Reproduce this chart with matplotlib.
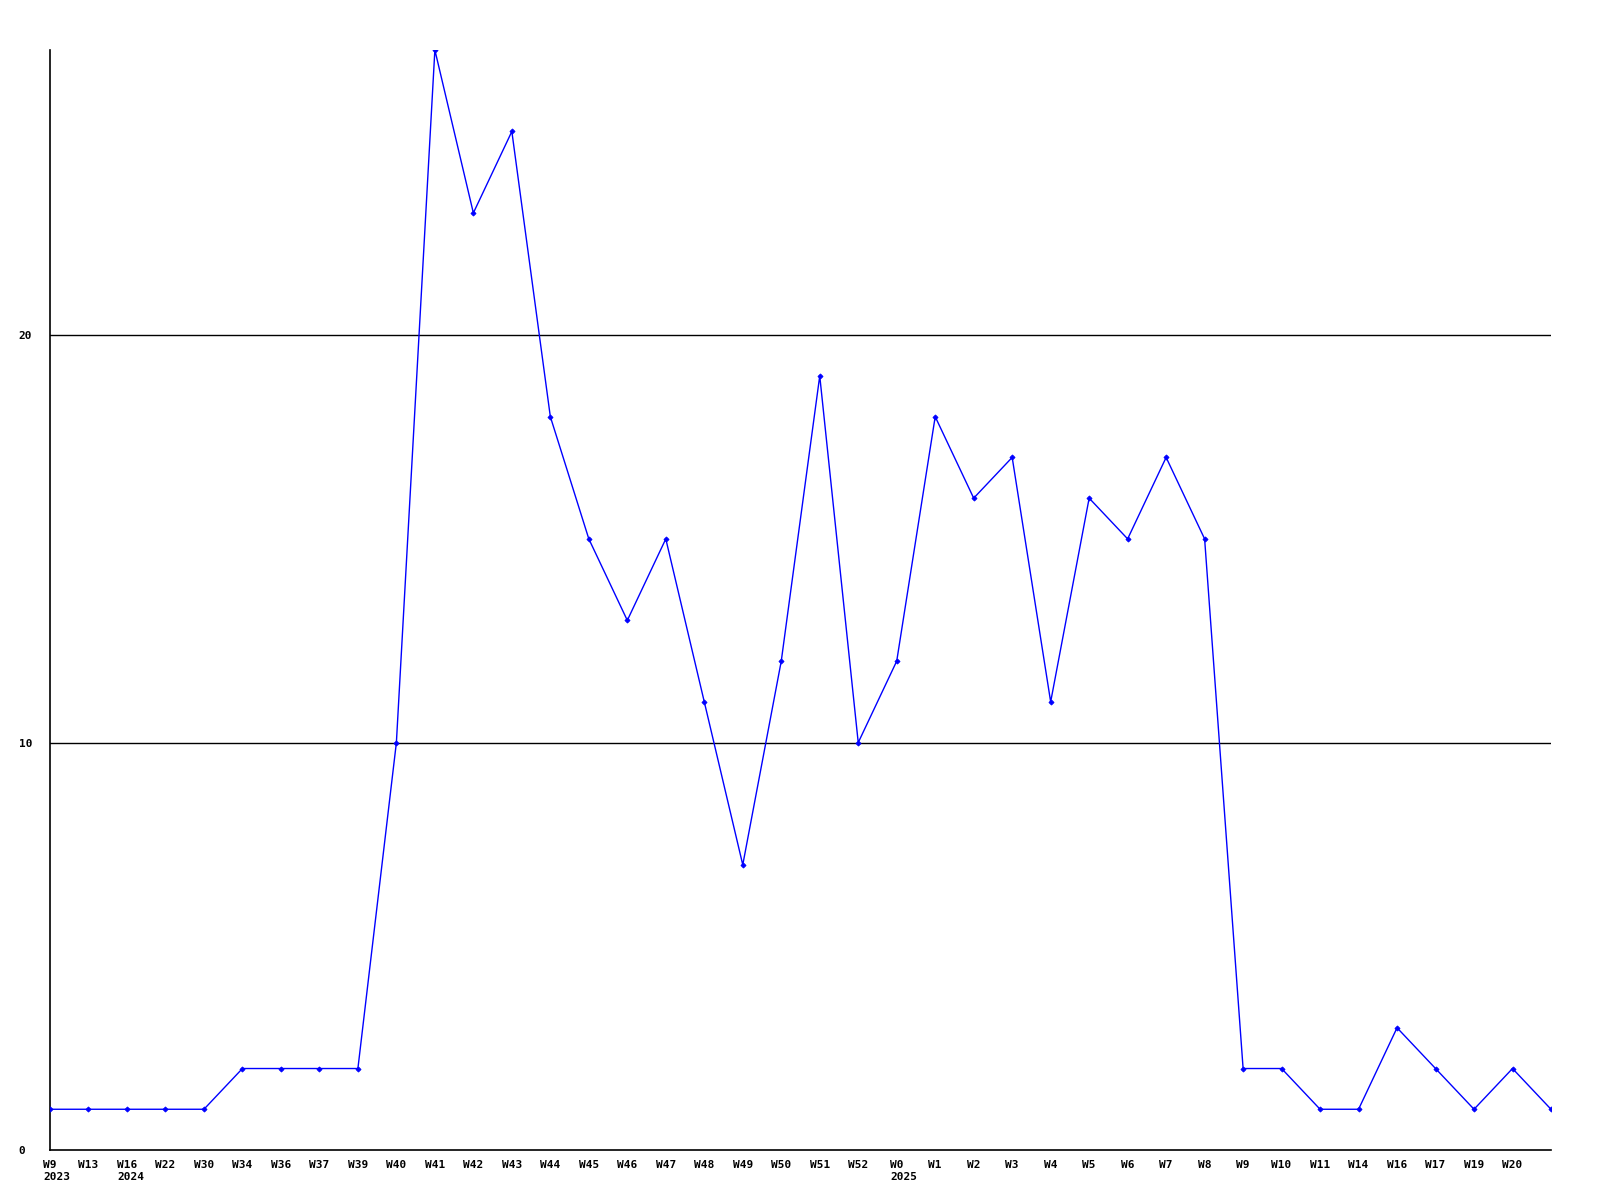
import matplotlib.pyplot as plt
from matplotlib.transforms import offset_copy

# semanas (etiquetas del eje x) y años
weeks = ["W9", "W13", "W16", "W22", "W30", "W34", "W36", "W37", "W39", "W40",
         "W41", "W42", "W43", "W44", "W45", "W46", "W47", "W48", "W49", "W50",
         "W51", "W52", "W0", "W1", "W2", "W3", "W4", "W5", "W6", "W7",
         "W8", "W9", "W10", "W11", "W14", "W16", "W17", "W19", "W20", ""]
years = {0: "2023", 2: "2024", 22: "2025"}
values = [1, 1, 1, 1, 1, 2, 2, 2, 2, 10,
          27, 23, 25, 18, 15, 13, 15, 11, 7, 12,
          19, 10, 12, 18, 16, 17, 11, 16, 15, 17,
          15, 2, 2, 1, 1, 3, 2, 1, 2, 1]
yticks = [0, 10, 20]

fig = plt.figure(figsize=(16, 12), dpi=100)
ax = fig.add_axes([50 / 1600, 50 / 1200, (1551 - 50) / 1600, (1150 - 50) / 1200])

x = list(range(len(values)))
ax.plot(x, values, color=(0, 0, 1), lw=1, marker='D', ms=2.6, mew=0.6, zorder=3)

for v in yticks[1:]:
    ax.axhline(v, color='black', lw=1, zorder=1)

ax.set_xlim(0, len(values) - 1)
ax.set_ylim(0, 27)

for s in ['top', 'right']:
    ax.spines[s].set_visible(False)
for s in ['left', 'bottom']:
    ax.spines[s].set_linewidth(1.2)
    ax.spines[s].set_color('black')

font = dict(family='DejaVu Sans Mono', weight='bold', size=8)

ax.set_xticks(x)
ax.set_xticklabels(weeks, fontdict=font, va='top', ha='center')
ax.set_yticks(yticks)
ax.set_yticklabels([str(v) for v in yticks], fontdict=font, ha='left')
ax.tick_params(axis='both', length=0)
ax.tick_params(axis='x', pad=7)
ax.tick_params(axis='y', pad=22.5)

# años debajo de la etiqueta de semana, alineados a su borde izquierdo
char_w = 0.602 * 8
for i, yr in years.items():
    tr = offset_copy(ax.get_xaxis_transform(), fig=fig,
                     x=-len(weeks[i]) * char_w / 2, y=-16, units='points')
    ax.text(i, 0, yr, transform=tr, ha='left', va='top', **font)

fig.savefig('out.png', dpi=100)
